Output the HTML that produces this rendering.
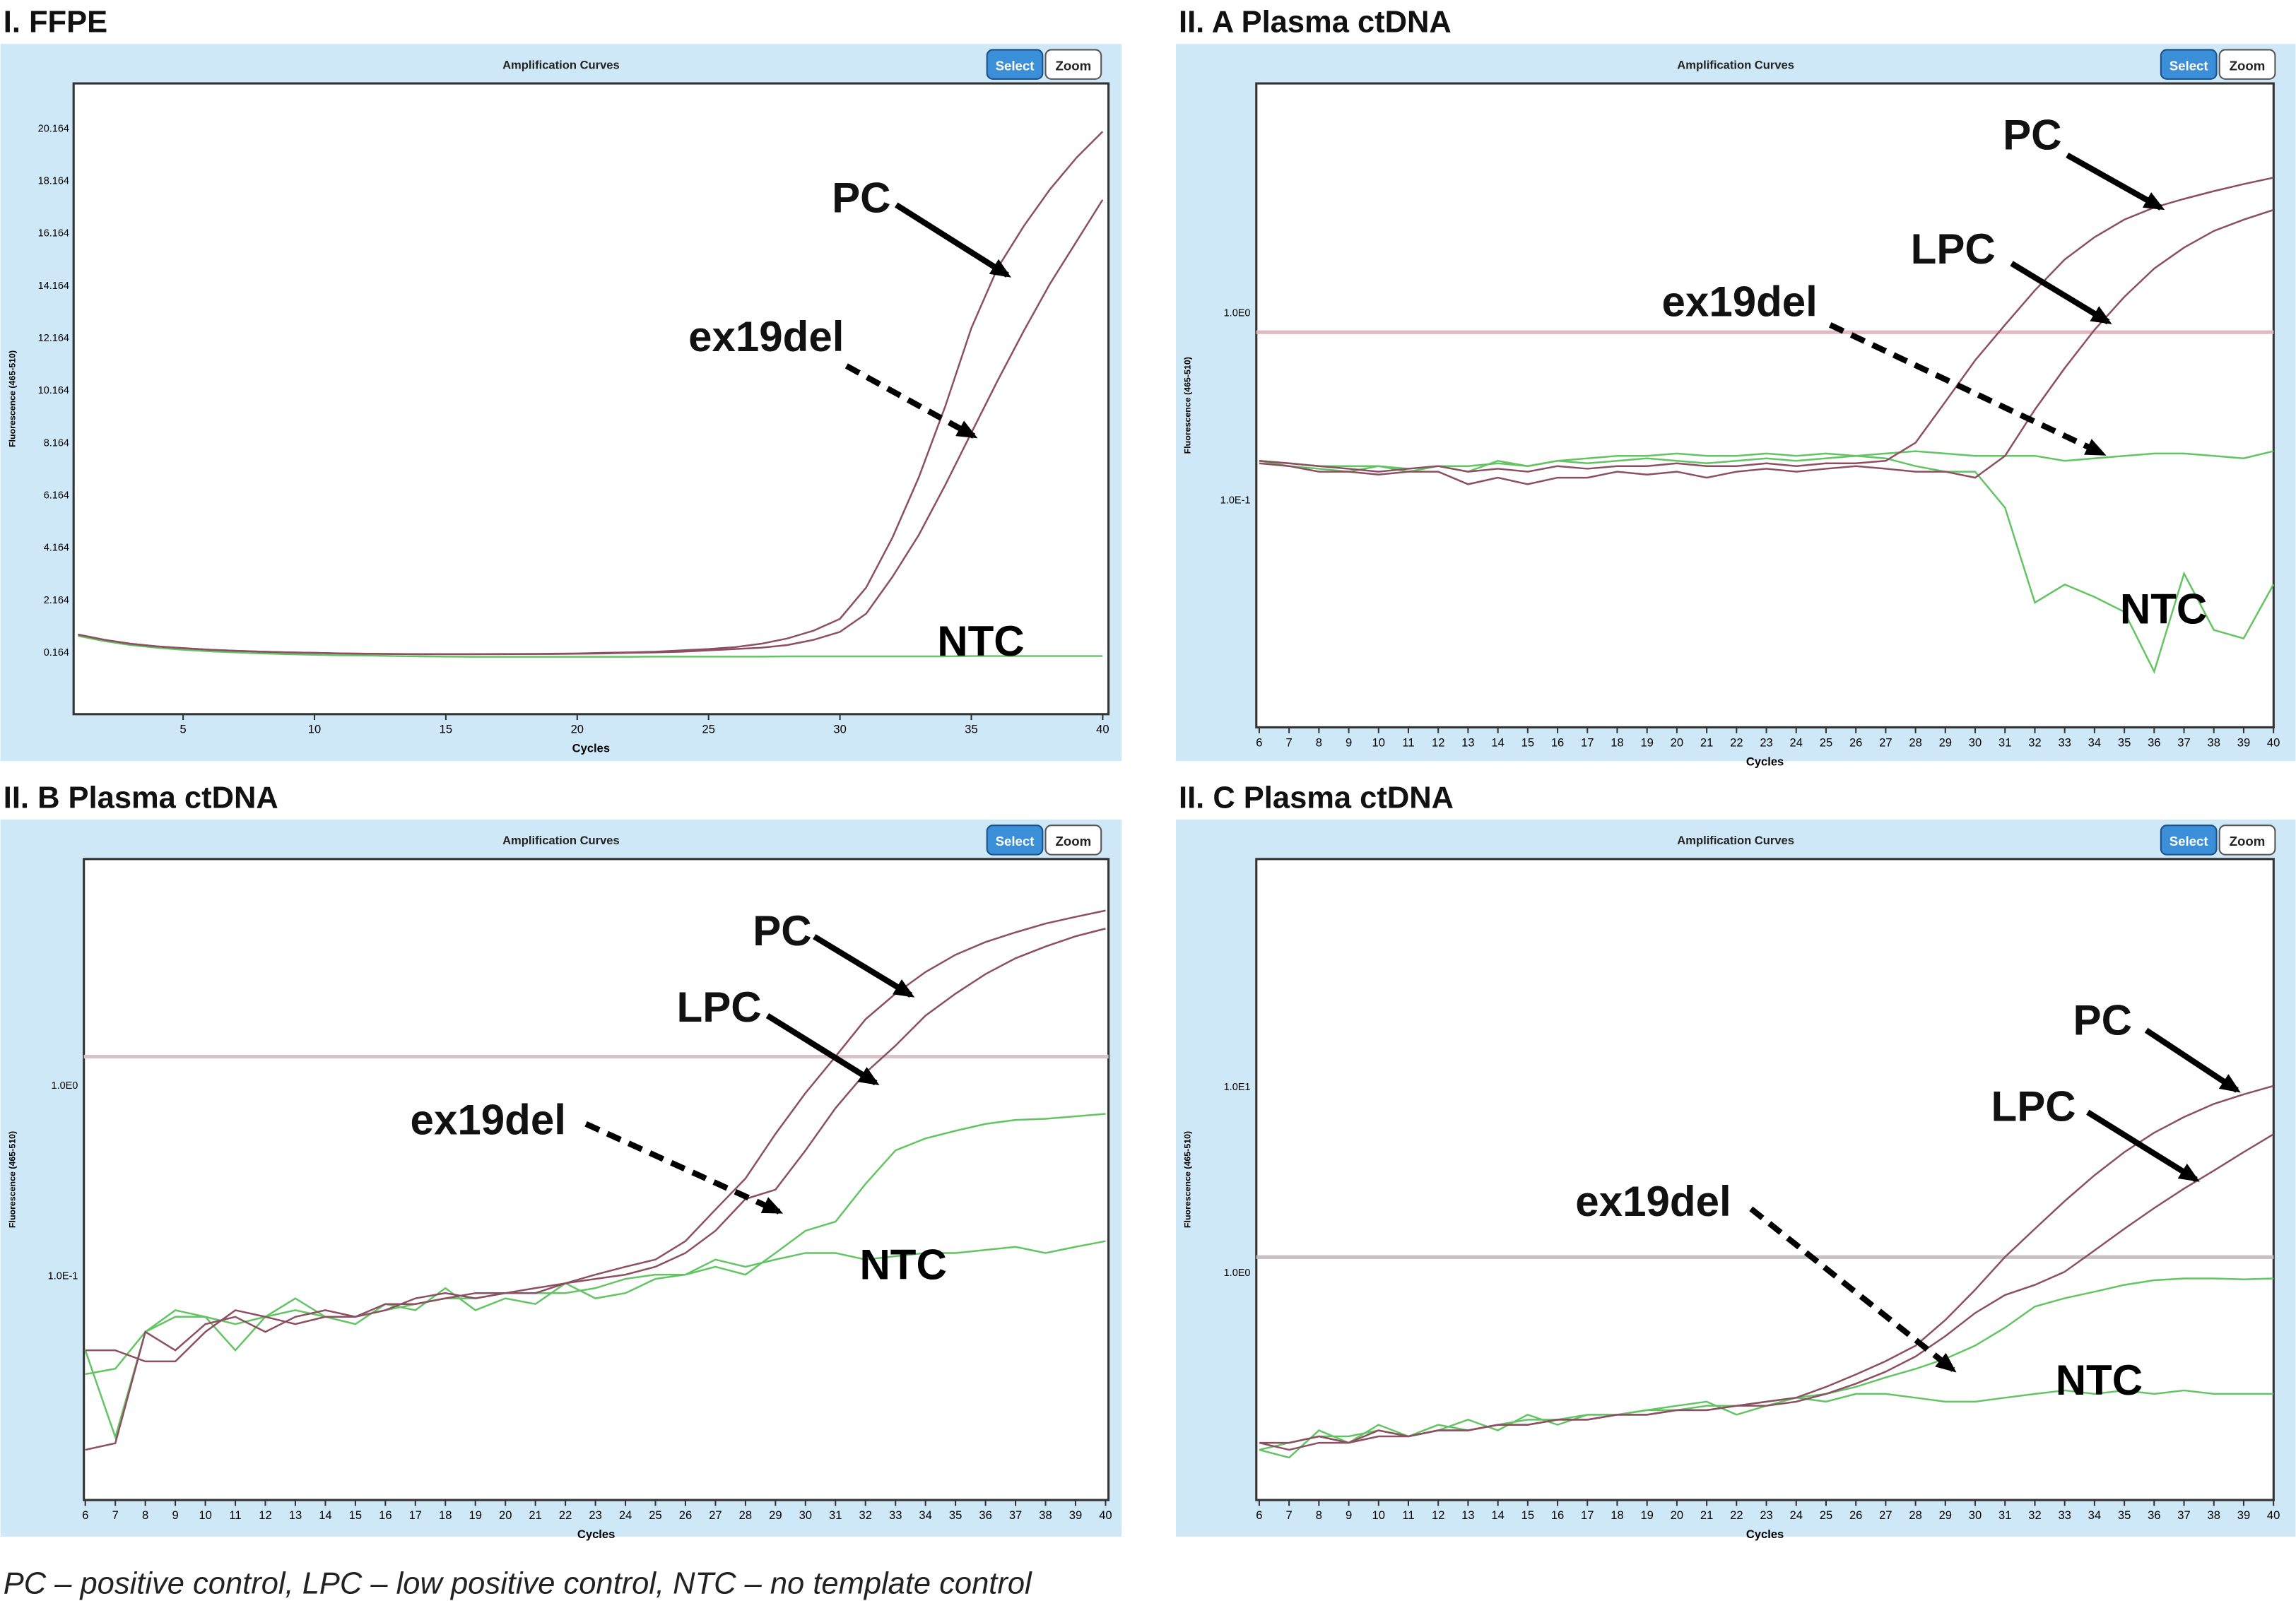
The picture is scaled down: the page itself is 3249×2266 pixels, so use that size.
<!DOCTYPE html>
<html><head><meta charset="utf-8"><style>
html,body{margin:0;padding:0;background:#fff;}
svg{display:block;}
text{font-family:"Liberation Sans",sans-serif;}
</style></head><body>
<svg id="fig" width="3249" height="2266" viewBox="0 0 1568 1094" xmlns="http://www.w3.org/2000/svg">
<defs><marker id="ah" markerWidth="14" markerHeight="14" refX="11" refY="7" orient="auto" markerUnits="userSpaceOnUse"><path d="M0,1 L14,7 L0,13 z" fill="#000"/></marker></defs>
<g id="root"></g>
<text x="2" y="1089" font-size="21" font-style="italic" fill="#222">PC – positive control, LPC – low positive control, NTC – no template control</text>
</svg>
<script>
// ---- Panel I (FFPE, linear)
const cyclesI = [1,2,3,4,5,6,7,8,9,10,11,12,13,14,15,16,17,18,19,20,21,22,23,24,25,26,27,28,29,30,31,32,33,34,35,36,37,38,39,40];
const pcI = [0.8,0.6,0.45,0.35,0.28,0.22,0.18,0.15,0.12,0.1,0.08,0.07,0.06,0.05,0.05,0.05,0.06,0.06,0.07,0.08,0.1,0.12,0.15,0.2,0.25,0.32,0.45,0.65,0.95,1.4,2.6,4.5,6.8,9.5,12.5,14.8,16.4,17.8,19.0,20.0];
const exI = [0.8,0.6,0.45,0.35,0.28,0.22,0.18,0.15,0.12,0.1,0.08,0.07,0.06,0.05,0.05,0.05,0.05,0.06,0.06,0.07,0.08,0.1,0.12,0.15,0.2,0.25,0.3,0.4,0.6,0.9,1.6,3.0,4.6,6.5,8.5,10.5,12.4,14.2,15.8,17.4];
const ntcI = [0.75,0.55,0.4,0.3,0.22,0.16,0.12,0.08,0.05,0.03,0.01,0,-0.02,-0.03,-0.04,-0.05,-0.05,-0.05,-0.05,-0.05,-0.05,-0.05,-0.04,-0.04,-0.04,-0.04,-0.04,-0.03,-0.03,-0.03,-0.03,-0.03,-0.03,-0.03,-0.02,-0.02,-0.02,-0.02,-0.02,-0.02];
const yTicksI = ["0.164","2.164","4.164","6.164","8.164","10.164","12.164","14.164","16.164","18.164","20.164"];
const xTicksI = [5,10,15,20,25,30,35,40];
// ---- Panel IIA (log)
const cyclesA = [6,7,8,9,10,11,12,13,14,15,16,17,18,19,20,21,22,23,24,25,26,27,28,29,30,31,32,33,34,35,36,37,38,39,40];
const pcA = [0.16,0.155,0.15,0.145,0.14,0.145,0.15,0.14,0.145,0.14,0.15,0.145,0.15,0.15,0.155,0.15,0.15,0.155,0.15,0.155,0.155,0.16,0.2,0.33,0.55,0.85,1.3,1.9,2.5,3.1,3.6,4.0,4.4,4.8,5.2];
const lpcA = [0.155,0.15,0.14,0.14,0.135,0.14,0.14,0.12,0.13,0.12,0.13,0.13,0.14,0.135,0.14,0.13,0.14,0.145,0.14,0.145,0.15,0.145,0.14,0.14,0.13,0.17,0.3,0.5,0.8,1.2,1.7,2.2,2.7,3.1,3.5];
const exA = [0.16,0.155,0.15,0.15,0.15,0.145,0.15,0.15,0.155,0.15,0.16,0.165,0.17,0.17,0.175,0.17,0.17,0.175,0.17,0.175,0.17,0.175,0.18,0.175,0.17,0.17,0.17,0.16,0.165,0.17,0.175,0.175,0.17,0.165,0.18];
const ntcA = [0.16,0.15,0.145,0.14,0.15,0.14,0.15,0.14,0.16,0.15,0.16,0.155,0.16,0.165,0.16,0.155,0.16,0.165,0.16,0.165,0.17,0.165,0.15,0.14,0.14,0.09,0.028,0.035,0.03,0.025,0.012,0.04,0.02,0.018,0.035];
const yTicksA = [{v:1,l:"1.0E0"},{v:0.1,l:"1.0E-1"}];
// ---- Panel IIB (log)
const cyclesB = cyclesA;
const pcB = [0.012,0.013,0.05,0.04,0.055,0.06,0.05,0.06,0.065,0.06,0.07,0.07,0.075,0.08,0.08,0.085,0.09,0.1,0.11,0.12,0.15,0.22,0.32,0.55,0.9,1.4,2.2,3.0,3.9,4.8,5.6,6.3,7.0,7.6,8.2];
const lpcB = [0.04,0.04,0.035,0.035,0.05,0.065,0.06,0.055,0.06,0.06,0.065,0.075,0.08,0.075,0.08,0.08,0.09,0.095,0.1,0.11,0.13,0.17,0.25,0.28,0.45,0.75,1.15,1.6,2.3,3.0,3.8,4.6,5.3,6.0,6.6];
const exB = [0.03,0.032,0.05,0.06,0.06,0.055,0.06,0.065,0.06,0.06,0.065,0.07,0.075,0.075,0.08,0.08,0.08,0.085,0.095,0.1,0.1,0.11,0.1,0.13,0.17,0.19,0.3,0.45,0.52,0.57,0.62,0.65,0.66,0.68,0.7];
const ntcB = [0.04,0.014,0.05,0.065,0.06,0.04,0.06,0.075,0.06,0.055,0.07,0.065,0.085,0.065,0.075,0.07,0.09,0.075,0.08,0.095,0.1,0.12,0.11,0.12,0.13,0.13,0.12,0.125,0.13,0.13,0.135,0.14,0.13,0.14,0.15];
const yTicksB = [{v:1,l:"1.0E0"},{v:0.1,l:"1.0E-1"}];
// ---- Panel IIC (log)
const cyclesC = cyclesA;
const pcC = [0.12,0.12,0.13,0.12,0.14,0.13,0.14,0.14,0.15,0.15,0.16,0.16,0.17,0.17,0.18,0.18,0.19,0.2,0.21,0.24,0.28,0.33,0.4,0.55,0.8,1.2,1.7,2.4,3.3,4.4,5.6,6.8,8.0,9.0,10.0];
const lpcC = [0.12,0.11,0.12,0.12,0.13,0.13,0.14,0.14,0.15,0.15,0.16,0.16,0.17,0.17,0.18,0.18,0.19,0.19,0.2,0.22,0.25,0.29,0.35,0.45,0.6,0.75,0.85,1.0,1.3,1.7,2.2,2.8,3.5,4.4,5.5];
const exC = [0.11,0.12,0.13,0.13,0.14,0.13,0.15,0.14,0.15,0.16,0.16,0.17,0.17,0.18,0.18,0.19,0.19,0.2,0.21,0.22,0.24,0.27,0.3,0.34,0.4,0.5,0.65,0.72,0.78,0.85,0.9,0.92,0.92,0.91,0.92];
const ntcC = [0.11,0.1,0.14,0.12,0.15,0.13,0.14,0.16,0.14,0.17,0.15,0.17,0.17,0.18,0.19,0.2,0.17,0.19,0.21,0.2,0.22,0.22,0.21,0.2,0.2,0.21,0.22,0.23,0.22,0.23,0.22,0.23,0.22,0.22,0.22];
const yTicksC = [{v:10,l:"1.0E1"},{v:1,l:"1.0E0"}];

const NS="http://www.w3.org/2000/svg";
const root=document.getElementById('root');
function mk(tag,attrs,parent,name,inter){
  const e=document.createElementNS(NS,tag);
  for(const k in attrs)e.setAttribute(k,attrs[k]);
  
  
  (parent||root).appendChild(e);return e;
}
function frame(P){
  const g=mk('g',{},root,P.id,false);
  mk('text',{x:P.fx+2,y:P.fy-8,'font-size':21,'font-weight':600,fill:'#111'},g,'panel-title',false).textContent=P.title;
  mk('rect',{x:P.fx,y:P.fy,width:P.fw,height:P.fh,fill:'#cfe8f8'},g,'chart-frame',false);
  mk('text',{x:P.fx+P.fw/2,y:P.fy+17,'font-size':8,'font-weight':'bold','text-anchor':'middle',fill:'#222'},g,'chart-title',false).textContent='Amplification Curves';
  const bx=P.fx+P.fw-92;
  mk('rect',{x:bx,y:P.fy+4,width:38,height:20,rx:4,fill:'#3a8fd8',stroke:'#1a4f88'},g,'select-button',true);
  mk('text',{x:bx+19,y:P.fy+18,'font-size':9,'font-weight':'bold','text-anchor':'middle',fill:'#fff'},g,'select-label',false).textContent='Select';
  mk('rect',{x:bx+40,y:P.fy+4,width:38,height:20,rx:4,fill:'#fff',stroke:'#555'},g,'zoom-button',true);
  mk('text',{x:bx+59,y:P.fy+18,'font-size':9,'font-weight':'bold','text-anchor':'middle',fill:'#222'},g,'zoom-label',false).textContent='Zoom';
  mk('rect',{x:P.px,y:P.py,width:P.pw,height:P.ph,fill:'#fff',stroke:'#333','stroke-width':1.5},g,'plot-area',false);
  mk('text',{x:P.px+P.pw/2,y:P.py+P.ph+26,'font-size':8,'font-weight':'bold','text-anchor':'middle'},g,'x-axis-title',false).textContent='Cycles';
  const yt=mk('text',{x:0,y:0,'font-size':6,'font-weight':'bold','text-anchor':'middle',transform:`translate(${P.fx+10},${P.py+P.ph/2}) rotate(-90)`},g,'y-axis-title',false);
  yt.textContent='Fluorescence (465-510)';
  return g;
}
function line(g,P,cyc,vals,color,name){
  const d=cyc.map((c,i)=>(i?'L':'M')+P.x(c).toFixed(1)+','+P.y(vals[i]).toFixed(1)).join(' ');
  mk('path',{d:d,fill:'none',stroke:color,'stroke-width':1.2},g,name,false);
}
function xticks(g,P,ticks){
  ticks.forEach(c=>{
    mk('line',{x1:P.x(c),x2:P.x(c),y1:P.py+P.ph,y2:P.py+P.ph+4,stroke:'#333'},g,'x-tick',false);
    mk('text',{x:P.x(c),y:P.py+P.ph+13,'font-size':8,'text-anchor':'middle'},g,'x-tick-label',false).textContent=c;
  });
}
function ytickLog(g,P,ticks){
  ticks.forEach(t=>{
    mk('text',{x:P.px-4,y:P.y(t.v)+3,'font-size':7,'text-anchor':'end'},g,'y-tick-label',false).textContent=t.l;
  });
}
function label(g,txt,x,y,ax1,ay1,ax2,ay2,dashed,name){
  mk('text',{x:x,y:y,'font-size':29,'font-weight':'bold',fill:'#111'},g,name+'-label',false).textContent=txt;
  const a={x1:ax1,y1:ay1,x2:ax2,y2:ay2,stroke:'#000','stroke-width':4,'marker-end':'url(#ah)'};
  if(dashed)a['stroke-dasharray']='10,6';
  mk('line',a,g,name+'-arrow',false);
}
const MAU='#8c4f62', GRN='#63c463';

// Panel I
{
  const P={id:'panel-ffpe',title:'I. FFPE',fx:0,fy:30,fw:766,fh:490,px:50,py:57,pw:707,ph:431};
  P.x=c=>53+(c-1)*17.95;
  P.y=v=>445-(v-0.164)*17.9;
  const g=frame(P);
  yTicksI.forEach((l,i)=>{mk('text',{x:P.px-3,y:P.y(parseFloat(l))+3,'font-size':7,'text-anchor':'end'},g,'y-tick-label',false).textContent=l;});
  xticks(g,P,xTicksI);
  line(g,P,cyclesI,ntcI,GRN,'ntc-curve');
  line(g,P,cyclesI,exI,MAU,'ex19del-curve');
  line(g,P,cyclesI,pcI,MAU,'pc-curve');
  label(g,'PC',568,145,612,140,688,188,false,'pc');
  label(g,'ex19del',470,240,578,250,665,298,true,'ex19del');
  mk('text',{x:640,y:448,'font-size':29,'font-weight':'bold'},g,'ntc-label',false).textContent='NTC';
}
const cyc6_40=[6,7,8,9,10,11,12,13,14,15,16,17,18,19,20,21,22,23,24,25,26,27,28,29,30,31,32,33,34,35,36,37,38,39,40];
// Panel IIA
{
  const P={id:'panel-iia',title:'II. A Plasma ctDNA',fx:803,fy:30,fw:765,fh:490,px:858,py:57,pw:695,ph:440};
  P.x=c=>860+(c-6)*20.38;
  P.y=v=>213-Math.log10(v)*128;
  const g=frame(P);
  ytickLog(g,P,yTicksA); xticks(g,P,cyc6_40);
  mk('line',{x1:P.px,x2:P.px+P.pw,y1:227,y2:227,stroke:'#e0b8c0','stroke-width':2.5},g,'threshold-line',false);
  line(g,P,cyclesA,ntcA,GRN,'ntc-curve');
  line(g,P,cyclesA,exA,GRN,'ex19del-curve');
  line(g,P,cyclesA,lpcA,MAU,'lpc-curve');
  line(g,P,cyclesA,pcA,MAU,'pc-curve');
  label(g,'PC',1368,102,1412,106,1476,142,false,'pc');
  label(g,'LPC',1305,180,1374,180,1440,220,false,'lpc');
  label(g,'ex19del',1135,216,1250,222,1436,310,true,'ex19del');
  mk('text',{x:1448,y:426,'font-size':29,'font-weight':'bold'},g,'ntc-label',false).textContent='NTC';
}
// Panel IIB
{
  const P={id:'panel-iib',title:'II. B Plasma ctDNA',fx:0,fy:560,fw:766,fh:490,px:57,py:587,pw:700,ph:438};
  P.x=c=>58+(c-6)*20.5;
  P.y=v=>741-Math.log10(v)*130;
  const g=frame(P);
  ytickLog(g,P,yTicksB); xticks(g,P,cyc6_40);
  mk('line',{x1:P.px,x2:P.px+P.pw,y1:722,y2:722,stroke:'#d8c4c8','stroke-width':2.5},g,'threshold-line',false);
  line(g,P,cyclesB,ntcB,GRN,'ntc-curve');
  line(g,P,cyclesB,exB,GRN,'ex19del-curve');
  line(g,P,cyclesB,lpcB,MAU,'lpc-curve');
  line(g,P,cyclesB,pcB,MAU,'pc-curve');
  label(g,'PC',514,646,556,640,622,680,false,'pc');
  label(g,'LPC',462,698,524,694,598,740,false,'lpc');
  label(g,'ex19del',280,775,400,768,532,828,true,'ex19del');
  mk('text',{x:587,y:874,'font-size':29,'font-weight':'bold'},g,'ntc-label',false).textContent='NTC';
}
// Panel IIC
{
  const P={id:'panel-iic',title:'II. C Plasma ctDNA',fx:803,fy:560,fw:765,fh:490,px:858,py:587,pw:695,ph:438};
  P.x=c=>860+(c-6)*20.38;
  P.y=v=>869-Math.log10(v)*127;
  const g=frame(P);
  ytickLog(g,P,yTicksC); xticks(g,P,cyc6_40);
  mk('line',{x1:P.px,x2:P.px+P.pw,y1:859,y2:859,stroke:'#c8c0c4','stroke-width':2.5},g,'threshold-line',false);
  line(g,P,cyclesC,ntcC,GRN,'ntc-curve');
  line(g,P,cyclesC,exC,GRN,'ex19del-curve');
  line(g,P,cyclesC,lpcC,MAU,'lpc-curve');
  line(g,P,cyclesC,pcC,MAU,'pc-curve');
  label(g,'PC',1416,707,1466,704,1528,745,false,'pc');
  label(g,'LPC',1360,766,1426,760,1500,806,false,'lpc');
  label(g,'ex19del',1076,831,1196,826,1334,936,true,'ex19del');
  mk('text',{x:1404,y:953,'font-size':29,'font-weight':'bold'},g,'ntc-label',false).textContent='NTC';
}
</script>
</body></html>
